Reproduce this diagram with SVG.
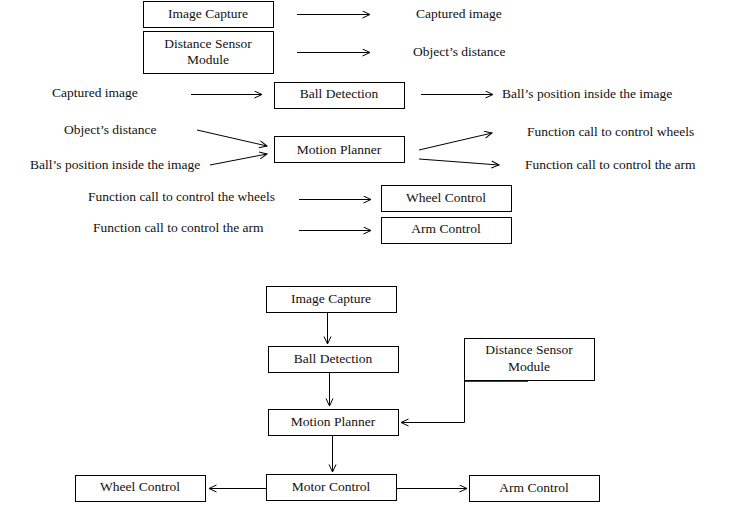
<svg xmlns="http://www.w3.org/2000/svg" width="731" height="506" viewBox="0 0 731 506">
<style>
.box{fill:#fff;stroke:#000;stroke-width:1}
.t{font-family:"Liberation Serif","Times New Roman",serif;font-size:13.5px;fill:#111}
.c{text-anchor:middle}
.ln{stroke:#000;stroke-width:1;fill:none;marker-end:url(#ah)}
</style>
<defs>
<marker id="ah" markerUnits="userSpaceOnUse" markerWidth="12" markerHeight="12" refX="8" refY="4" orient="auto">
<path d="M0.5,0.5 L8,4 L0.5,7.5" fill="none" stroke="#000" stroke-width="1"/>
</marker>
</defs>
<rect width="731" height="506" fill="#fff"/>
<g id="top-image-capture"><rect class="box" x="143.5" y="1.5" width="130" height="26"/><text class="t c" x="208" y="18">Image Capture</text></g>
<g id="top-distance-sensor"><rect class="box" x="143.5" y="31.5" width="130" height="42"/><text class="t c" x="208" y="48">Distance Sensor</text><text class="t c" x="208" y="64">Module</text></g>
<g id="top-ball-detection"><rect class="box" x="274.5" y="82.5" width="130" height="26"/><text class="t c" x="339" y="98">Ball Detection</text></g>
<g id="top-motion-planner"><rect class="box" x="274.5" y="136.5" width="130" height="26"/><text class="t c" x="339" y="154">Motion Planner</text></g>
<g id="top-wheel-control"><rect class="box" x="381.5" y="185.5" width="130" height="26"/><text class="t c" x="446" y="202">Wheel Control</text></g>
<g id="top-arm-control"><rect class="box" x="381.5" y="217.5" width="130" height="26"/><text class="t c" x="446" y="233">Arm Control</text></g>
<g id="top-labels">
<text class="t" x="416" y="18">Captured image</text>
<text class="t" x="413" y="56">Object’s distance</text>
<text class="t" x="52" y="97">Captured image</text>
<text class="t" x="502" y="98">Ball’s position inside the image</text>
<text class="t" x="64" y="134">Object’s distance</text>
<text class="t" x="30" y="169">Ball’s position inside the image</text>
<text class="t" x="527" y="136">Function call to control wheels</text>
<text class="t" x="525" y="169">Function call to control the arm</text>
<text class="t" x="88" y="201">Function call to control the wheels</text>
<text class="t" x="93" y="232">Function call to control the arm</text>
</g>
<g id="bot-image-capture"><rect class="box" x="266.5" y="286.5" width="130" height="26"/><text class="t c" x="331" y="303">Image Capture</text></g>
<g id="bot-ball-detection"><rect class="box" x="268.5" y="346.5" width="130" height="26"/><text class="t c" x="333" y="363">Ball Detection</text></g>
<g id="bot-motion-planner"><rect class="box" x="268.5" y="409.5" width="130" height="26"/><text class="t c" x="333" y="426">Motion Planner</text></g>
<g id="bot-distance-sensor"><rect class="box" x="464.5" y="338.5" width="130" height="42"/><text class="t c" x="529" y="354">Distance Sensor</text><text class="t c" x="529" y="371">Module</text><line x1="464" y1="381" x2="528" y2="381" stroke="#000" stroke-width="1.5"/></g>
<g id="bot-motor-control"><rect class="box" x="266.5" y="474.5" width="130" height="26"/><text class="t c" x="331" y="491">Motor Control</text></g>
<g id="bot-wheel-control"><rect class="box" x="75.5" y="475.5" width="130" height="26"/><text class="t c" x="140" y="491">Wheel Control</text></g>
<g id="bot-arm-control"><rect class="box" x="469.5" y="475.5" width="130" height="26"/><text class="t c" x="534" y="492">Arm Control</text></g>
<g id="connectors">
<line class="ln" x1="297" y1="14.5" x2="370" y2="14.5"/>
<line class="ln" x1="297" y1="52.5" x2="370" y2="52.5"/>
<line class="ln" x1="191" y1="94.5" x2="262" y2="94.5"/>
<line class="ln" x1="421" y1="94.5" x2="493" y2="94.5"/>
<line class="ln" x1="197" y1="130" x2="267" y2="146"/>
<line class="ln" x1="210" y1="165" x2="267" y2="154"/>
<line class="ln" x1="419" y1="150" x2="492" y2="133"/>
<line class="ln" x1="419" y1="159" x2="499" y2="165"/>
<line class="ln" x1="299" y1="199.5" x2="371" y2="199.5"/>
<line class="ln" x1="299" y1="230.5" x2="371" y2="230.5"/>
<line class="ln" x1="327.5" y1="313" x2="327.5" y2="344"/>
<line class="ln" x1="329.5" y1="373" x2="329.5" y2="406"/>
<line class="ln" x1="332.5" y1="436" x2="332.5" y2="472"/>
<polyline class="ln" points="464.5,381 464.5,422.5 401,422.5"/>
<line class="ln" x1="266" y1="488.5" x2="209" y2="488.5"/>
<line class="ln" x1="397" y1="488.5" x2="467" y2="488.5"/>
</g>
</svg>
